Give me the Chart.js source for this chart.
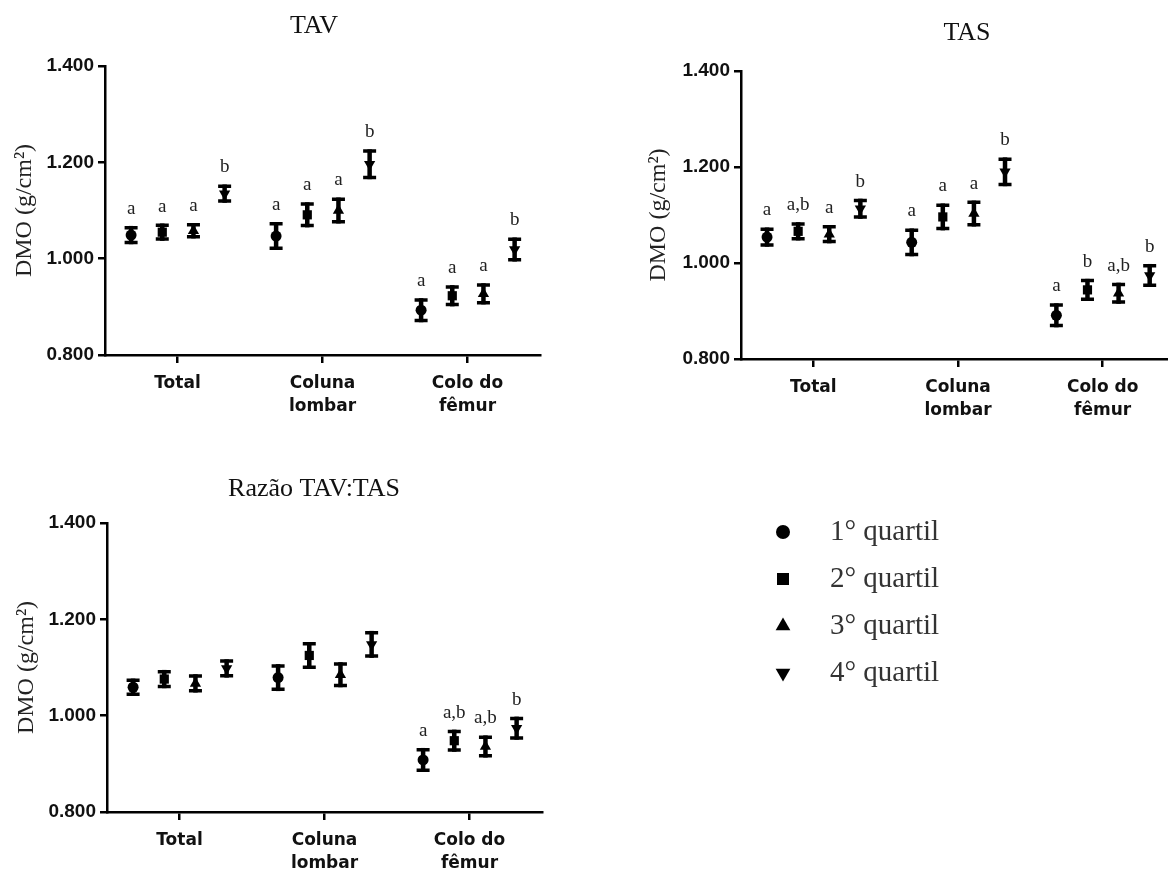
<!DOCTYPE html>
<html>
<head>
<meta charset="utf-8">
<script src="https://cdn.jsdelivr.net/npm/chart.js@4.4.1/dist/chart.umd.min.js"></script>
<style>
    html, body { margin: 0; padding: 0; background: #fff; overflow: hidden; }
    body { width: 1168px; height: 872px; position: relative; }
    .panel { position: absolute; }
</style>
</head>
<body>
<div class="panel" style="left:0;top:0;width:584px;height:436px"><canvas id="chart-tav"></canvas></div>
<div class="panel" style="left:584px;top:0;width:600px;height:436px"><canvas id="chart-tas"></canvas></div>
<div class="panel" style="left:0;top:436px;width:1168px;height:436px"><canvas id="chart-razao"></canvas></div>

<script>
// Categories on the x axis and the quartile series
const categorias = [['Total'], ['Coluna', 'lombar'], ['Colo do', 'fêmur']];
const quartis = ['1° quartil', '2° quartil', '3° quartil', '4° quartil'];
const quartilStyles = ['circle', 'rect', 'triangle', 'triangle'];
const quartilRotation = [0, 0, 0, 180];
const quartilOffsets = [-0.32, -0.105, 0.11, 0.325];
const yTicks = [0.8, 1.0, 1.2, 1.4];

// TAV (one row per quartile: Total, Coluna lombar, Colo do fêmur)
const tavMeans = [
    [1.049, 1.047, 0.893],
    [1.055, 1.091, 0.923],
    [1.058, 1.100, 0.927],
    [1.135, 1.196, 1.019]
];
const tavErrors = [
    [0.019, 0.029, 0.025],
    [0.018, 0.026, 0.022],
    [0.016, 0.027, 0.022],
    [0.019, 0.031, 0.025]
];
const tavLetters = [
    ['a', 'a', 'a'],
    ['a', 'a', 'a'],
    ['a', 'a', 'a'],
    ['b', 'b', 'b']
];

// TAS
const tasMeans = [
    [1.054, 1.043, 0.891],
    [1.066, 1.096, 0.944],
    [1.060, 1.103, 0.937],
    [1.113, 1.190, 0.974]
];
const tasErrors = [
    [0.020, 0.029, 0.025],
    [0.019, 0.028, 0.023],
    [0.019, 0.027, 0.022],
    [0.021, 0.030, 0.024]
];
const tasLetters = [
    ['a', 'a', 'a'],
    ['a,b', 'a', 'b'],
    ['a', 'a', 'a,b'],
    ['b', 'b', 'b']
];

// Razao TAV:TAS
const razaoMeans = [
    [1.059, 1.079, 0.908],
    [1.076, 1.125, 0.948],
    [1.067, 1.085, 0.936],
    [1.098, 1.148, 0.974]
];
const razaoErrors = [
    [0.018, 0.028, 0.025],
    [0.019, 0.028, 0.023],
    [0.019, 0.026, 0.023],
    [0.019, 0.028, 0.024]
];
const razaoLetters = [
    ['', '', 'a'],
    ['', '', 'a,b'],
    ['', '', 'a,b'],
    ['', '', 'b']
];

// Error bars under the points
const errorBars = {
    id: 'errorBars',
    beforeDatasetsDraw(chart) {
        const { ctx, scales: { x, y } } = chart;
        ctx.save();
        ctx.strokeStyle = '#000';
        chart.data.datasets.forEach(ds => {
            ds.data.forEach((p, i) => {
                const px = x.getPixelForValue(p.x);
                const top = y.getPixelForValue(p.y + ds.errors[i]);
                const bot = y.getPixelForValue(p.y - ds.errors[i]);
                ctx.lineWidth = 4.5;
                ctx.beginPath();
                ctx.moveTo(px, top);
                ctx.lineTo(px, bot);
                ctx.stroke();
                ctx.lineWidth = 3.5;
                ctx.beginPath();
                ctx.moveTo(px - 6.5, top + 1.75);
                ctx.lineTo(px + 6.5, top + 1.75);
                ctx.moveTo(px - 6.5, bot - 1.75);
                ctx.lineTo(px + 6.5, bot - 1.75);
                ctx.stroke();
            });
        });
        ctx.restore();
    },
    // significance letters above each bar
    afterDatasetsDraw(chart) {
        const { ctx, scales: { x, y } } = chart;
        ctx.save();
        ctx.font = '19px "Liberation Serif"';
        ctx.fillStyle = '#222';
        ctx.textAlign = 'center';
        ctx.textBaseline = 'alphabetic';
        chart.data.datasets.forEach(ds => {
            ds.data.forEach((p, i) => {
                if (!ds.letters[i]) return;
                const px = x.getPixelForValue(p.x);
                const top = y.getPixelForValue(p.y + ds.errors[i]);
                ctx.fillText(ds.letters[i], px, top - 12);
            });
        });
        ctx.restore();
    }
};

// Title over each panel
const panelTitle = {
    id: 'panelTitle',
    afterDraw(chart, args, opts) {
        if (!opts.text) return;
        const ctx = chart.ctx;
        ctx.save();
        ctx.font = '26px "Liberation Serif"';
        ctx.fillStyle = '#111';
        ctx.textAlign = 'center';
        ctx.textBaseline = 'middle';
        ctx.fillText(opts.text, opts.x, opts.y);
        ctx.restore();
    }
};

// Legend with the quartile markers
const quartilLegend = {
    id: 'quartilLegend',
    afterDraw(chart, args, opts) {
        if (!opts.show) return;
        const ctx = chart.ctx;
        ctx.save();
        quartis.forEach((q, i) => {
            const yy = opts.top + i * opts.gap;
            ctx.fillStyle = '#000';
            ctx.strokeStyle = '#000';
            Chart.helpers.drawPoint(ctx, {
                pointStyle: quartilStyles[i],
                rotation: quartilRotation[i],
                radius: i == 0 ? 7 : 8.5,
                borderWidth: 0
            }, opts.x, yy);
            ctx.font = '29px "Liberation Serif"';
            ctx.fillStyle = '#333';
            ctx.textAlign = 'left';
            ctx.textBaseline = 'middle';
            ctx.fillText(q, opts.textX, yy);
        });
        ctx.restore();
    }
};

function buildDatasets(means, errors, letters) {
    return quartis.map((q, k) => ({
        label: q,
        data: categorias.map((c, i) => ({ x: i + 1 + quartilOffsets[k], y: means[k][i] })),
        errors: errors[k],
        letters: letters[k],
        pointStyle: quartilStyles[k],
        rotation: quartilRotation[k],
        radius: k == 0 ? 5.5 : 6.5,
        backgroundColor: '#000',
        borderColor: '#000',
        borderWidth: 0
    }));
}

function createPanel(id, means, errors, letters, look) {
    const ctx = document.getElementById(id);
    const config = {
        type: 'scatter',
        data: { datasets: buildDatasets(means, errors, letters) },
        options: {
            responsive: true,
            maintainAspectRatio: false,
            animation: false,
            layout: { padding: look.padding },
            plugins: {
                legend: { display: false },
                tooltip: { enabled: false },
                panelTitle: look.title,
                quartilLegend: look.legend || { show: false }
            },
            scales: {
                x: {
                    type: 'linear',
                    min: 0.5,
                    max: 3.5,
                    afterFit: (s) => { s.height = look.xHeight },
                    afterBuildTicks: (s) => { s.ticks = categorias.map((c, i) => ({ value: i + 1 })) },
                    ticks: {
                        callback: (v, i) => categorias[i],
                        color: '#111',
                        maxRotation: 0,
                        autoSkip: false,
                        padding: 10,
                        font: { family: 'DejaVu Sans', size: 17, weight: 'bold', lineHeight: 1.3 }
                    },
                    grid: { drawOnChartArea: false, tickLength: 8, color: '#000', lineWidth: 2.5 },
                    border: { color: '#000', width: 2.5 }
                },
                y: {
                    type: 'linear',
                    min: 0.8,
                    max: 1.4,
                    afterFit: (s) => { s.width = look.yWidth },
                    afterBuildTicks: (s) => { s.ticks = yTicks.map(v => ({ value: v })) },
                    ticks: {
                        callback: (v) => v.toFixed(3),
                        color: '#111',
                        padding: 4,
                        font: { family: 'Liberation Sans', size: 19, weight: 'bold' }
                    },
                    grid: { drawOnChartArea: false, tickLength: 7, color: '#000', lineWidth: 2.5 },
                    border: { color: '#000', width: 2.5 },
                    title: {
                        display: true,
                        text: 'DMO (g/cm²)',
                        color: '#222',
                        font: { family: 'Liberation Serif', size: 24 },
                        padding: { top: look.yTitlePad, bottom: 0 }
                    }
                }
            }
        },
        plugins: [errorBars, panelTitle, quartilLegend]
    };
    new Chart(ctx, config);
}

document.addEventListener('DOMContentLoaded', () => {
    createPanel('chart-tav', tavMeans, tavErrors, tavLetters, {
        padding: { top: 66, right: 44, left: 0, bottom: 0 },
        xHeight: 81, yWidth: 105, yTitlePad: 10,
        title: { text: 'TAV', x: 314, y: 26 }
    });
    createPanel('chart-tas', tasMeans, tasErrors, tasLetters, {
        padding: { top: 71, right: 9, left: 0, bottom: 0 },
        xHeight: 77, yWidth: 157, yTitlePad: 60,
        title: { text: 'TAS', x: 383, y: 33 }
    });
    createPanel('chart-razao', razaoMeans, razaoErrors, razaoLetters, {
        padding: { top: 87, right: 626, left: 0, bottom: 0 },
        xHeight: 60, yWidth: 107, yTitlePad: 12,
        title: { text: 'Razão TAV:TAS', x: 314, y: 53 },
        legend: { show: true, x: 783, textX: 830, top: 96, gap: 47 }
    });
});
</script>
</body>
</html>
